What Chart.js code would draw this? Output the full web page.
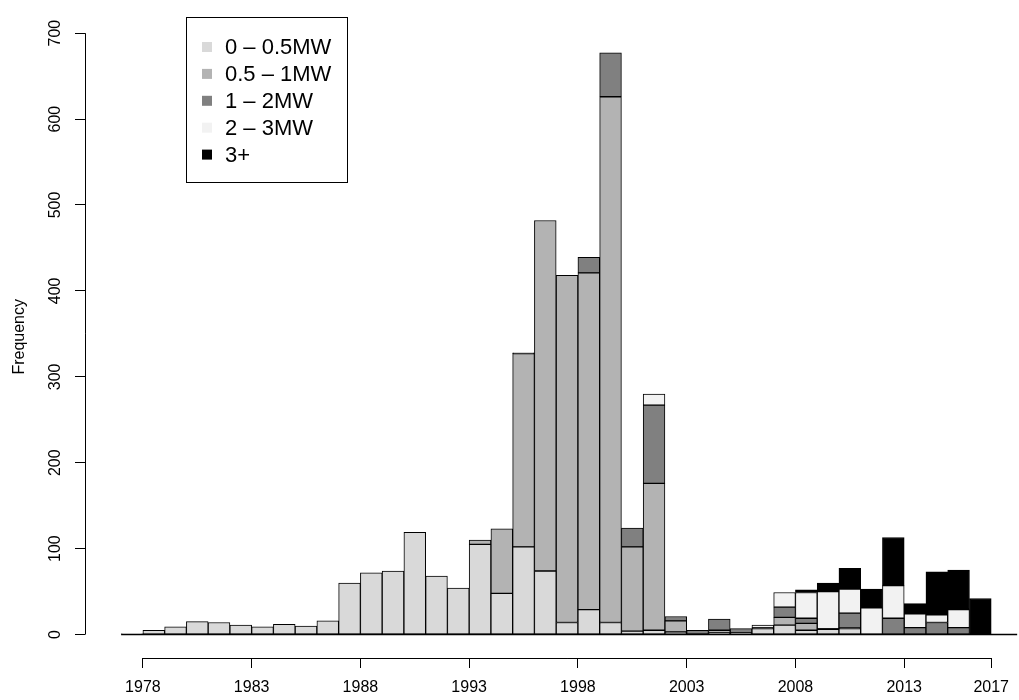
<!DOCTYPE html>
<html>
<head>
<meta charset="utf-8">
<script src="https://cdn.jsdelivr.net/npm/chart.js@4.4.1/dist/chart.umd.min.js"></script>
<style>
  html, body { margin: 0; padding: 0; background: #fff; }
  #wrap { width: 1019px; height: 700px; position: relative; }
</style>
</head>
<body>
<div id="wrap"><canvas id="chart"></canvas></div>
<script>
// installation year bins (left edge of each one-year bin)
const years = [1977, 1978, 1979, 1980, 1981, 1982, 1983, 1984, 1985, 1986,
               1987, 1988, 1989, 1990, 1991, 1992, 1993, 1994, 1995, 1996,
               1997, 1998, 1999, 2000, 2001, 2002, 2003, 2004, 2005, 2006,
               2007, 2008, 2009, 2010, 2011, 2012, 2013, 2014, 2015, 2016];

// turbine counts per bin, by rated capacity
const cap0to05 = [1, 5, 9, 15, 14, 11, 9, 12, 10, 16,
                  60, 72, 74, 119, 68, 54, 105, 48, 102, 74,
                  14, 29, 14, 4, 5, 3, 1, 2, 2, 7,
                  11, 5, 6, 7, 0, 0, 0, 0, 0, 0];
const cap05to1 = [0, 0, 0, 0, 0, 0, 0, 0, 0, 0,
                  0, 0, 0, 0, 0, 0, 5, 75, 225, 408,
                  404, 392, 612, 98, 171, 13, 0, 3, 0, 1,
                  9, 8, 0, 1, 0, 0, 0, 0, 0, 0];
const cap1to2 = [0, 0, 0, 0, 0, 0, 0, 0, 0, 0,
                 0, 0, 0, 0, 0, 0, 0, 0, 1, 0,
                 0, 18, 51, 22, 91, 5, 4, 13, 5, 0,
                 12, 6, 1, 17, 0, 19, 8, 14, 8, 0];
const cap2to3 = [0, 0, 0, 0, 0, 0, 0, 0, 0, 0,
                 0, 0, 0, 0, 0, 0, 0, 0, 0, 0,
                 0, 0, 0, 0, 13, 0, 0, 0, 0, 3,
                 17, 30, 43, 28, 31, 38, 16, 9, 21, 0];
const cap3plus = [0, 0, 0, 0, 0, 0, 0, 0, 0, 0,
                  0, 0, 0, 0, 0, 0, 0, 0, 0, 0,
                  0, 0, 0, 0, 0, 0, 0, 0, 0, 0,
                  0, 3, 10, 24, 22, 56, 12, 50, 46, 42];

const seriesLabels = ["0 \u2013 0.5MW", "0.5 \u2013 1MW", "1 \u2013 2MW", "2 \u2013 3MW", "3+"];
const seriesColors = ["#d9d9d9", "#b3b3b3", "#808080", "#f2f2f2", "#000000"];

const xTicks = [1978, 1983, 1988, 1993, 1998, 2003, 2008, 2013, 2017];
const yTicks = [0, 100, 200, 300, 400, 500, 600, 700];

Chart.defaults.font.family = "'Liberation Sans', Arial, Helvetica, sans-serif";
Chart.defaults.font.size = 16;
Chart.defaults.color = "#000";

// bars sit in the middle of their one-year bin
function toPoints(values) {
  return values.map((v, i) => ({ x: years[i] + 0.5, y: v }));
}

const datasets = [cap0to05, cap05to1, cap1to2, cap2to3, cap3plus].map((vals, i) => ({
  label: seriesLabels[i],
  data: toPoints(vals),
  backgroundColor: seriesColors[i],
  borderColor: "#000",
  borderWidth: 1,
  borderSkipped: false,
  barPercentage: 1,
  categoryPercentage: 1
}));

// axis lines that only run between first and last tick, plus the zero line
const axisLines = {
  id: "axisLines",
  afterDatasetsDraw(chart) {
    const { ctx, chartArea, scales: { x, y } } = chart;
    ctx.save();
    ctx.strokeStyle = "#000";
    ctx.lineWidth = 1;
    ctx.beginPath();
    ctx.moveTo(chartArea.left + 0.5, y.getPixelForValue(yTicks[0]));
    ctx.lineTo(chartArea.left + 0.5, y.getPixelForValue(yTicks[yTicks.length - 1]));
    ctx.moveTo(x.getPixelForValue(xTicks[0]), chartArea.bottom + 0.5);
    ctx.lineTo(x.getPixelForValue(xTicks[xTicks.length - 1]), chartArea.bottom + 0.5);
    ctx.stroke();
    ctx.lineWidth = 1.5;
    ctx.beginPath();
    ctx.moveTo(x.getPixelForValue(years[0]), y.getPixelForValue(0));
    ctx.lineTo(chartArea.right, y.getPixelForValue(0));
    ctx.stroke();
    ctx.restore();
  }
};

// boxed legend in the top-left corner of the plot
const boxLegend = {
  id: "boxLegend",
  afterDraw(chart) {
    const ctx = chart.ctx;
    const left = 186, top = 17, w = 161, h = 165;
    const rowY = 47, rowGap = 26.9;
    ctx.save();
    ctx.strokeStyle = "#000";
    ctx.lineWidth = 1;
    ctx.strokeRect(left + 0.5, top + 0.5, w, h);
    ctx.font = "22px 'Liberation Sans', Arial, sans-serif";
    ctx.textBaseline = "middle";
    chart.data.datasets.forEach((ds, i) => {
      const cy = rowY + i * rowGap;
      ctx.fillStyle = ds.backgroundColor;
      ctx.fillRect(202, cy - 5, 10, 10);
      ctx.fillStyle = "#000";
      ctx.fillText(ds.label, 225, cy + 1);
    });
    ctx.restore();
  }
};

new Chart(document.getElementById("chart"), {
  type: "bar",
  data: { datasets },
  options: {
    responsive: true,
    maintainAspectRatio: false,
    animation: false,
    layout: { padding: 0 },
    plugins: {
      legend: { display: false },
      tooltip: { enabled: false }
    },
    scales: {
      x: {
        type: "linear",
        stacked: true,
        offset: false,
        min: 1975.339,
        max: 2018.193,
        afterBuildTicks: scale => { scale.ticks = xTicks.map(v => ({ value: v })); },
        afterFit: scale => { scale.height = 42; },
        ticks: {
          autoSkip: false,
          maxRotation: 0,
          padding: 10,
          callback: v => String(v)
        },
        grid: { offset: false, drawOnChartArea: false, drawTicks: true, tickLength: 10, color: "#000" },
        border: { display: false }
      },
      y: {
        stacked: true,
        min: -27.27,
        max: 720.45,
        afterBuildTicks: scale => { scale.ticks = yTicks.map(v => ({ value: v })); },
        afterFit: scale => { scale.width = 85; },
        ticks: {
          minRotation: 90,
          maxRotation: 90,
          crossAlign: "center",
          padding: 6
        },
        grid: { drawOnChartArea: false, drawTicks: true, tickLength: 10, color: "#000" },
        border: { display: false },
        title: {
          display: true,
          text: "Frequency",
          padding: { top: 9.5, bottom: 0 }
        }
      }
    }
  },
  plugins: [axisLines, boxLegend]
});
</script>
</body>
</html>
